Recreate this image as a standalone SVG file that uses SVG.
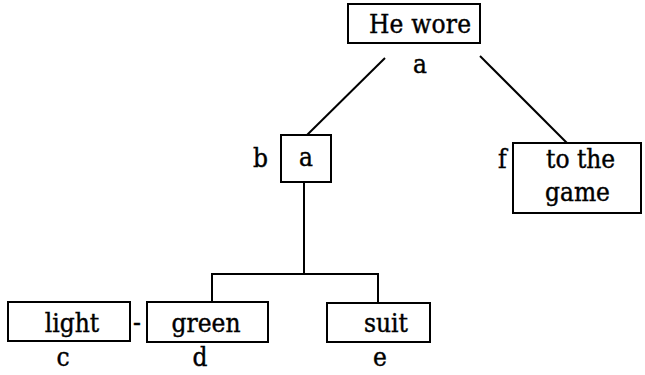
<svg xmlns="http://www.w3.org/2000/svg" width="645" height="375" viewBox="0 0 645 375">
<style>
.box{fill:none;stroke:#000;stroke-width:2}
.ln{fill:none;stroke:#000;stroke-width:2}
.t{font-family:'DejaVu Serif Condensed','DejaVu Serif',serif;font-stretch:condensed;font-size:26px;fill:#000;stroke:#000;stroke-width:0.4}
</style>
<rect width="645" height="375" fill="#fff"/>
<g id="connectors">
<line class="ln" x1="385" y1="58" x2="307" y2="135"/>
<line class="ln" x1="480" y1="56" x2="567" y2="143"/>
<polyline class="ln" points="304,182 304,274"/>
<polyline class="ln" points="212,302 212,274 378,274 378,303"/>
</g>
<g id="n-hewore">
<rect class="box" x="348" y="4" width="132" height="39"/>
<text class="t" x="369" y="33" textLength="102">He wore</text>
<text class="t" x="420" y="73" text-anchor="middle">a</text>
</g>
<g id="n-a">
<rect class="box" x="281" y="135" width="50" height="47"/>
<text class="t" x="306" y="166" text-anchor="middle">a</text>
<text class="t" x="253" y="167">b</text>
</g>
<g id="n-game">
<rect class="box" x="513" y="143" width="128" height="70"/>
<text class="t" x="546" y="168">to the</text>
<text class="t" x="545" y="201">game</text>
<text class="t" x="498" y="168">f</text>
</g>
<g id="n-light">
<rect class="box" x="8" y="302" width="122" height="39"/>
<text class="t" x="72" y="332" text-anchor="middle">light</text>
<text class="t" x="63" y="366" text-anchor="middle">c</text>
</g>
<text class="t" x="137" y="331" text-anchor="middle">-</text>
<g id="n-green">
<rect class="box" x="147" y="302" width="121" height="40"/>
<text class="t" x="206" y="332" text-anchor="middle">green</text>
<text class="t" x="200" y="366" text-anchor="middle">d</text>
</g>
<g id="n-suit">
<rect class="box" x="327" y="303" width="103" height="39"/>
<text class="t" x="386" y="332" text-anchor="middle">suit</text>
<text class="t" x="380" y="366" text-anchor="middle">e</text>
</g>
</svg>
